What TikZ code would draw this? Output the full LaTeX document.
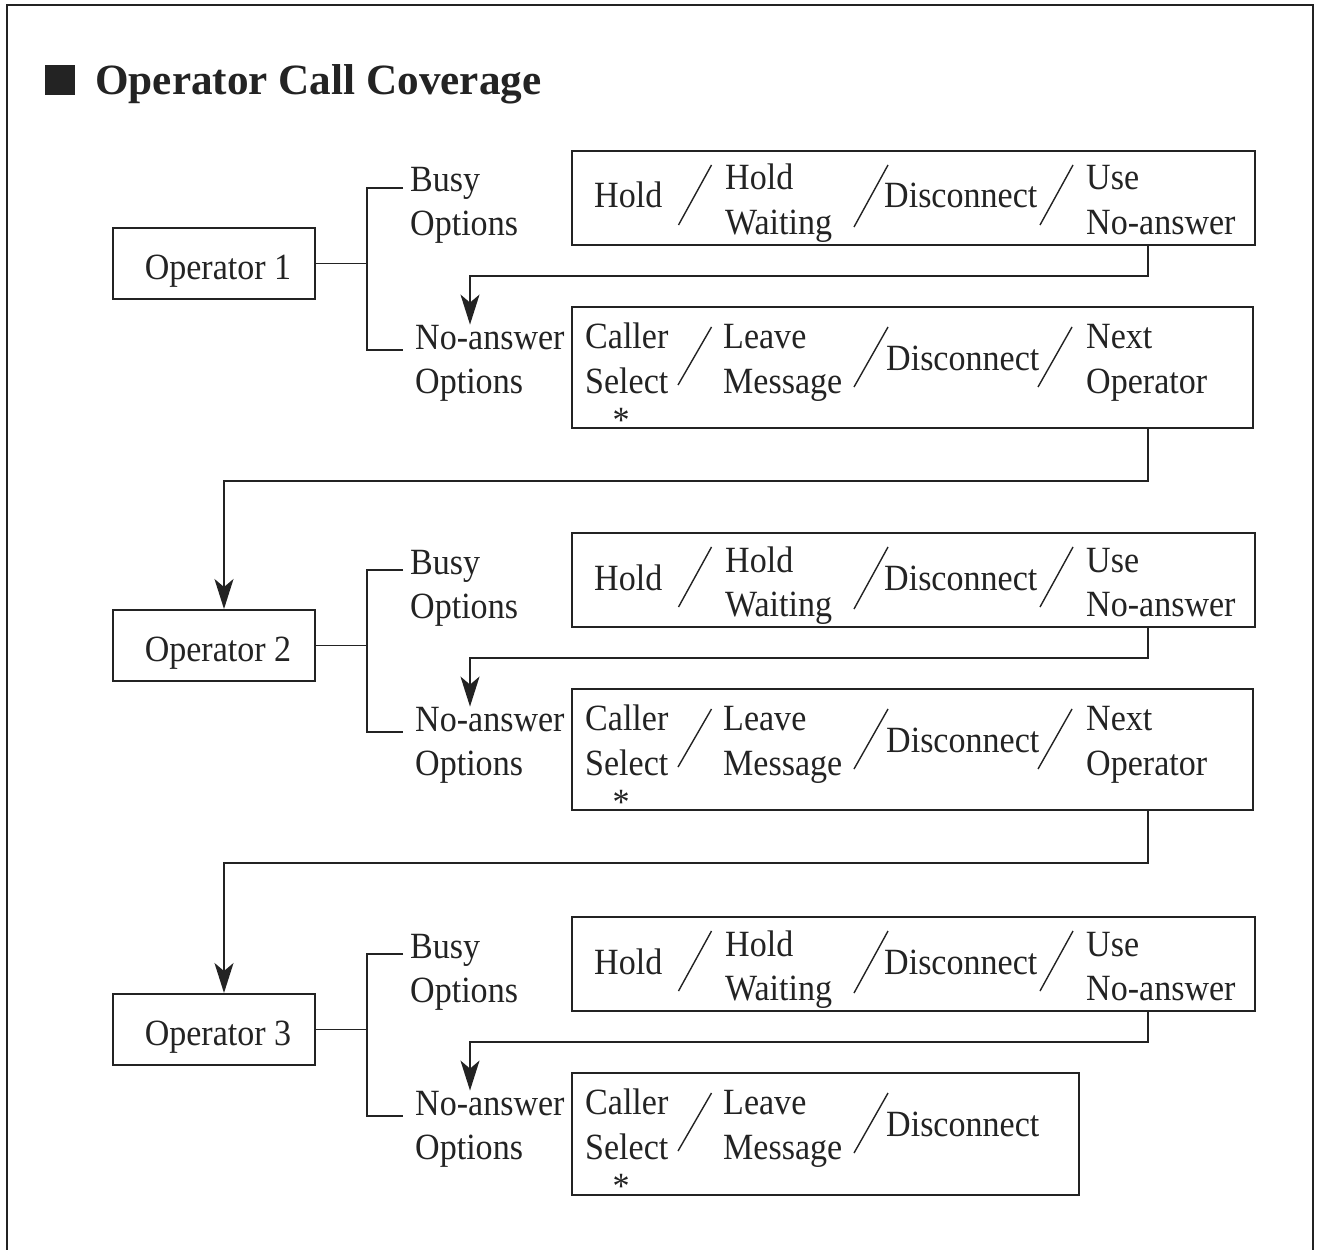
\documentclass[tikz,border=0pt]{standalone}
\usepackage{fontspec}
\setmainfont{Liberation Serif}[FakeStretch=0.92]
\newfontfamily\titlefont{Liberation Serif}
\usetikzlibrary{arrows.meta}
\definecolor{ink}{RGB}{35,35,35}
\newcommand\fs{\fontsize{37}{44}\selectfont}
\tikzset{
  opbox/.style={draw=ink, line width=2pt, minimum width=202pt, minimum height=71pt,
    inner sep=0pt, text height=36pt, text depth=5pt, font=\fs, text=ink},
  obox/.style={draw=ink, line width=2pt, anchor=north west, inner sep=0pt},
  txt/.style={anchor=base west, inner sep=0pt, font=\fs, text=ink},
  conn/.style={draw=ink, line width=1.6pt},
  arr/.style={conn, -{Stealth[length=30pt,width=19pt,inset=8pt]}},
  slash/.style={draw=ink, line width=1.4pt}
}
% #1 row id, #2 vertical shift, #3 operator number
\newcommand\oprow[3]{%
\begin{scope}[yshift=-#2pt]
  \node[opbox] (op#1) at (214,263.5) {\hspace*{8pt}Operator #3};
  \coordinate (brt#1) at (367,188);
  \coordinate (brb#1) at (367,350);
  \coordinate (bt#1) at (403,188);
  \coordinate (bb#1) at (403,350);
  \draw[conn] (op#1.east) -- (op#1.east -| brt#1);
  \draw[conn] (bt#1) -- (brt#1) -- (brb#1) -- (bb#1);
  \node[txt] (busy#1) at (410,192) {Busy};
  \node[txt] (busyo#1) at (410,236) {Options};
  \node[txt] (noa#1) at (415,349) {No-answer};
  \node[txt] (noao#1) at (415,393) {Options};
  % busy options box
  \node[obox, minimum width=683pt, minimum height=94pt] (bx#1) at (571,150) {};
  \node[txt] (bh#1) at (594,208) {Hold};
  \node[txt] (bhw#1) at (725,190) {Hold};
  \node[txt] (bw#1) at (725,234) {Waiting};
  \node[txt] (bd#1) at (884,208) {Disconnect};
  \node[txt] (bu#1) at (1086,190) {Use};
  \node[txt] (bn#1) at (1086,234) {No-answer};
  \draw[slash] (678.5,225) -- (711.5,165);
  \draw[slash] (854,227) -- (888,165);
  \draw[slash] (1040,225) -- (1073,165);
  % no-answer options texts
  \node[txt] (nc#1) at (585,348) {Caller};
  \node[txt] (ns#1) at (585,393) {Select};
  \node[anchor=base, inner sep=0pt, font=\fs, text=ink] (nast#1) at (621,432) {*};
  \node[txt] (nl#1) at (723,348) {Leave};
  \node[txt] (nm#1) at (723,393) {Message};
  \node[txt] (nd#1) at (886,370) {Disconnect};
  \draw[slash] (678,385) -- (711.5,327);
  \draw[slash] (854,387) -- (888,327);
  \coordinate (k1#1) at (1148,276);
  \coordinate (k2#1) at (470,276);
  \coordinate (m1#1) at (1148,481);
  \coordinate (m2#1) at (224,481);
\end{scope}}
\begin{document}
\begin{tikzpicture}[x=1pt,y=-1pt]
\useasboundingbox (0,0) rectangle (1321,1249);
\fill[white] (0,0) rectangle (1321,1249);
\draw[draw=ink, line width=2pt] (7,1260) -- (7,5) -- (1313,5) -- (1313,1260);
% title
\fill[ink] (45,65) rectangle (75,95);
\node[anchor=base west, inner sep=0pt, text=ink,
  font=\titlefont\bfseries\fontsize{43.2}{50}\selectfont] (title) at (95,95) {Operator Call Coverage};
% rows
\oprow{1}{0}{1}
\oprow{2}{382}{2}
\oprow{3}{766}{3}
% no-answer boxes
\node[obox, minimum width=681pt, minimum height=121pt] (nx1) at (571,306) {};
\node[obox, minimum width=681pt, minimum height=121pt] (nx2) at (571,688) {};
\node[obox, minimum width=507pt, minimum height=122pt] (nx3) at (571,1072) {};
\begin{scope}[yshift=-0pt]
  \draw[slash] (1038,387) -- (1072,327);
  \node[txt] (nn1) at (1086,348) {Next};
  \node[txt] (no1) at (1086,393) {Operator};
\end{scope}
\begin{scope}[yshift=-382pt]
  \draw[slash] (1038,387) -- (1072,327);
  \node[txt] (nn2) at (1086,348) {Next};
  \node[txt] (no2) at (1086,393) {Operator};
\end{scope}
% arrows busy -> no-answer
\draw[arr] (k11 |- bx1.south) -- (k11) -- (k21) -- (k21 |- noa1.north);
\draw[arr] (k12 |- bx2.south) -- (k12) -- (k22) -- (k22 |- noa2.north);
\draw[arr] (k13 |- bx3.south) -- (k13) -- (k23) -- (k23 |- noa3.north);
% arrows to next operator
\draw[arr] (m11 |- nx1.south) -- (m11) -- (m21) -- (m21 |- op2.north);
\draw[arr] (m12 |- nx2.south) -- (m12) -- (m22) -- (m22 |- op3.north);
\end{tikzpicture}
\end{document}
